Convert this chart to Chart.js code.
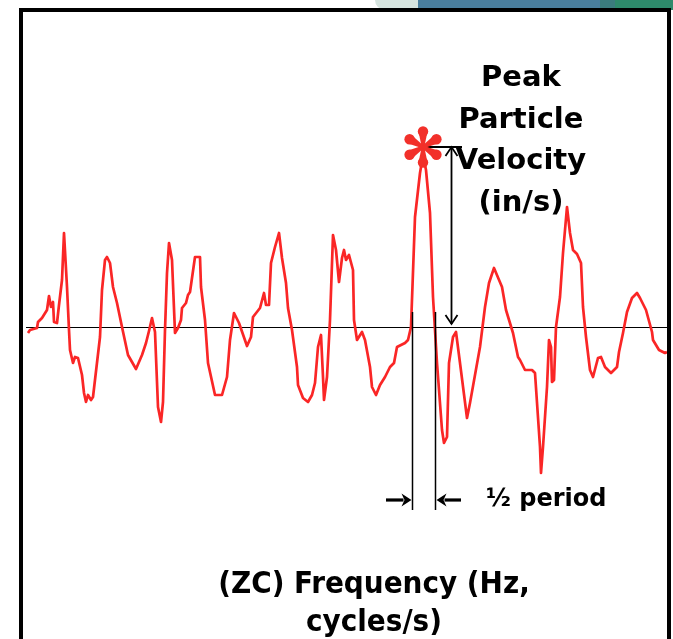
<!DOCTYPE html>
<html>
<head>
<meta charset="utf-8">
<title>Peak Particle Velocity</title>
<script src="https://cdn.jsdelivr.net/npm/chart.js@4.4.1/dist/chart.umd.min.js"></script>
<style>
  html, body { margin: 0; padding: 0; background: #fff; overflow: hidden; }
  body { width: 673px; height: 639px; position: relative; }
  #waveChart { position: absolute; left: 0; top: 0; }
  .frame { position: absolute; left: 19px; top: 8px; width: 644px; height: 700px; border: 4px solid #000; z-index: 3; }
  .deco { position: absolute; top: 0; height: 10px; z-index: 1; }
  .label { position: absolute; z-index: 4; color: #000; text-align: center; white-space: nowrap; }
  .peak { left: 411px; top: 56px; width: 220px; font: bold 29px/41.5px "DejaVu Sans", sans-serif; }
  .half { left: 486px; top: 483px; font: bold 24px/30px "DejaVu Sans", sans-serif; text-align: left; }
  .freq { left: 164px; top: 563px; width: 420px; font-family: "DejaVu Sans Condensed", "DejaVu Sans", sans-serif; font-stretch: condensed; font-weight: bold; font-size: 31px; line-height: 38px; }
</style>
</head>
<body>
<div class="deco" style="left:375px;width:43px;background:#d6e4df;border-radius:0 0 0 30px;"></div>
<div class="deco" style="left:418px;width:182px;background:#4a7e9d;"></div>
<div class="deco" style="left:600px;width:15px;background:#3b7c7d;"></div>
<div class="deco" style="left:615px;width:58px;background:#2e8a6b;"></div>
<canvas id="waveChart" width="673" height="639"></canvas>
<div class="frame"></div>
<div class="label peak">Peak<br>Particle<br>Velocity<br>(in/s)</div>
<div class="label half">½ period</div>
<div class="label freq">(ZC) Frequency (Hz,<br>cycles/s)</div>

<script>
// ============================================
// DATA (time in ms, velocity in in/s)
// ============================================
const timeMs = [
  3, 4, 7.5, 8, 10, 12.5, 13.5, 14.5, 15.5, 16, 17.5, 18.5, 20, 21, 22.5, 23.5, 24, 25.5, 26.5, 28,
  30, 31, 32, 33, 34.5, 35.5, 39, 40, 41.5, 42.5, 44, 45.5, 47.5, 50, 53, 57, 60, 62, 63.5, 65,
  66.5, 68, 69.5, 70.5, 71.5, 72.5, 73.5, 75, 76.5, 78, 79.5, 80, 82, 83, 84, 85, 86.5, 89, 89.5, 91.5,
  93, 96.5, 100, 102.5, 104, 106, 108.5, 112.5, 114.5, 115.5, 119, 121, 122, 123.5, 124.5, 126.5, 128.5, 130, 132, 133,
  135, 137.5, 138, 140.5, 143, 145, 146.5, 148, 149.5, 150.5, 151, 152.5, 154, 155.5, 157, 158.5, 160, 161, 162, 163.5,
  165.5, 166, 167.5, 170, 171.5, 174, 175, 177, 179, 181.5, 184, 186, 187.5, 191.5, 193, 194.5, 196.5, 199, 200.5, 202,
  204, 205.5, 207.5, 210, 211, 212.5, 213.5, 215.5, 217, 219, 222.5, 224, 229, 231.5, 233.5, 236, 240, 242, 245.5, 248,
  249, 251.5, 255, 256.5, 259, 259.5, 260.5, 262.5, 263.5, 264.5, 265, 266, 267, 269, 270.5, 272.5, 274, 275.5, 277.5, 279.5,
  280.5, 282, 284, 285.5, 288, 289.5, 291.5, 294.5, 297.5, 298.5, 300.5, 302.5, 305, 307.5, 309, 312, 315, 315.5, 318.5, 321.5,
  322.5
];
const velocity = [
  -0.06, -0.03, -0.01, 0.05, 0.09, 0.17, 0.31, 0.20, 0.25, 0.05, 0.04, 0.22, 0.47, 0.94, 0.40, -0.03, -0.23, -0.36, -0.30, -0.31,
  -0.48, -0.66, -0.75, -0.68, -0.73, -0.70, -0.10, 0.37, 0.67, 0.70, 0.64, 0.40, 0.24, 0.00, -0.28, -0.42, -0.28, -0.16, -0.04, 0.09,
  -0.05, -0.80, -0.95, -0.75, -0.03, 0.54, 0.84, 0.67, -0.06, -0.01, 0.07, 0.19, 0.24, 0.32, 0.35, 0.49, 0.70, 0.70, 0.40, 0.07,
  -0.36, -0.68, -0.68, -0.50, -0.13, 0.14, 0.04, -0.19, -0.10, 0.10, 0.19, 0.34, 0.22, 0.22, 0.64, 0.80, 0.94, 0.69, 0.44, 0.19,
  -0.03, -0.40, -0.58, -0.71, -0.75, -0.68, -0.56, -0.20, -0.08, -0.50, -0.73, -0.50, 0.07, 0.92, 0.77, 0.45, 0.69, 0.77, 0.67, 0.72,
  0.57, 0.07, -0.13, -0.05, -0.13, -0.40, -0.60, -0.68, -0.58, -0.50, -0.40, -0.36, -0.20, -0.16, -0.13, 0.00, 1.10, 1.54, 1.72, 1.57,
  1.14, 0.30, -0.36, -1.03, -1.16, -1.10, -0.36, -0.10, -0.05, -0.36, -0.91, -0.76, -0.20, 0.20, 0.44, 0.59, 0.40, 0.17, -0.06, -0.30,
  -0.33, -0.43, -0.43, -0.46, -1.20, -1.46, -1.20, -0.60, -0.13, -0.20, -0.55, -0.53, 0.00, 0.30, 0.74, 1.20, 0.94, 0.77, 0.73, 0.64,
  0.20, -0.10, -0.43, -0.50, -0.31, -0.30, -0.40, -0.46, -0.40, -0.25, -0.06, 0.15, 0.29, 0.34, 0.29, 0.17, -0.05, -0.13, -0.23, -0.26,
  -0.25
];

// annotation anchors (data units)
const peakTime = 200.5;
const peakMarker = 1.80;
const peakArrowTime = 214.5;
const peakLineEnd = 220;
const halfPeriodStart = 195;
const halfPeriodEnd = 206.5;
const halfPeriodTop = 0.15;
const halfPeriodBottom = -1.83;
const halfArrowLevel = -1.73;
const halfArrowLength = 13;

// ============================================
// DRAW HELPERS
// ============================================
function drawAsterisk(ctx, cx, cy, r) {
    ctx.save();
    ctx.fillStyle = '#f2302a';
    [90, 30, 150, 210, 270, 330].forEach(deg => {
        const a = deg * Math.PI / 180;
        const ux = Math.cos(a), uy = -Math.sin(a);
        const px = -uy, py = ux;
        const tip = r - 5.5;
        // teardrop petal: narrow at the centre, round at the end
        ctx.beginPath();
        ctx.moveTo(cx + px * 1.3, cy + py * 1.3);
        ctx.lineTo(cx + ux * tip + px * 4.5, cy + uy * tip + py * 4.5);
        ctx.lineTo(cx + ux * tip - px * 4.5, cy + uy * tip - py * 4.5);
        ctx.lineTo(cx - px * 1.3, cy - py * 1.3);
        ctx.closePath();
        ctx.fill();
        ctx.beginPath();
        ctx.arc(cx + ux * tip, cy + uy * tip, 5.2, 0, Math.PI * 2);
        ctx.fill();
    });
    ctx.restore();
}

function drawChevron(ctx, x, y, dir) {
    // open arrow head, dir = 1 points down, -1 points up
    ctx.beginPath();
    ctx.moveTo(x - 6, y - dir * 9);
    ctx.lineTo(x, y);
    ctx.lineTo(x + 6, y - dir * 9);
    ctx.stroke();
}

function drawSolidArrow(ctx, fromX, toX, y) {
    const dir = toX > fromX ? 1 : -1;
    ctx.lineWidth = 3.2;
    ctx.beginPath();
    ctx.moveTo(fromX, y);
    ctx.lineTo(toX - dir * 8, y);
    ctx.stroke();
    ctx.beginPath();
    ctx.moveTo(toX, y);
    ctx.lineTo(toX - dir * 10, y - 6.5);
    ctx.lineTo(toX - dir * 7, y);
    ctx.lineTo(toX - dir * 10, y + 6.5);
    ctx.closePath();
    ctx.fill();
}

const waveAnnotations = {
    id: 'waveAnnotations',
    beforeDatasetsDraw(chart) {
        const { ctx, chartArea, scales: { y } } = chart;
        const y0 = Math.round(y.getPixelForValue(0)) + 0.5;
        ctx.save();
        ctx.strokeStyle = '#000';
        ctx.lineWidth = 1.2;
        ctx.beginPath();
        ctx.moveTo(chartArea.left + 4, y0);
        ctx.lineTo(chartArea.right, y0);
        ctx.stroke();
        ctx.restore();
    },
    afterDatasetsDraw(chart) {
        const { ctx, scales: { x, y } } = chart;
        ctx.save();
        ctx.strokeStyle = '#000';
        ctx.fillStyle = '#000';

        // peak marker + amplitude arrow
        const px = x.getPixelForValue(peakTime);
        const py = y.getPixelForValue(peakMarker);
        const ax = Math.round(x.getPixelForValue(peakArrowTime)) + 0.5;
        ctx.lineWidth = 1.8;
        ctx.beginPath();
        ctx.moveTo(px, py);
        ctx.lineTo(x.getPixelForValue(peakLineEnd), py);
        ctx.moveTo(ax, py);
        ctx.lineTo(ax, y.getPixelForValue(0.03));
        ctx.stroke();
        drawChevron(ctx, ax, py, -1);
        drawChevron(ctx, ax, y.getPixelForValue(0.03), 1);

        // half period markers
        const hx1 = Math.round(x.getPixelForValue(halfPeriodStart)) + 0.5;
        const hx2 = Math.round(x.getPixelForValue(halfPeriodEnd)) + 0.5;
        ctx.lineWidth = 1.5;
        ctx.beginPath();
        ctx.moveTo(hx1, y.getPixelForValue(halfPeriodTop));
        ctx.lineTo(hx1, y.getPixelForValue(halfPeriodBottom));
        ctx.moveTo(hx2, y.getPixelForValue(halfPeriodTop));
        ctx.lineTo(hx2, y.getPixelForValue(halfPeriodBottom));
        ctx.stroke();
        const ay = y.getPixelForValue(halfArrowLevel);
        drawSolidArrow(ctx, x.getPixelForValue(halfPeriodStart - halfArrowLength), hx1 - 1, ay);
        drawSolidArrow(ctx, x.getPixelForValue(halfPeriodEnd + halfArrowLength), hx2 + 1, ay);

        drawAsterisk(ctx, px, py, 21);
        ctx.restore();
    }
};

// ============================================
// CHART
// ============================================
const ctx = document.getElementById('waveChart');
const waveChart = new Chart(ctx.getContext('2d'), {
    type: 'line',
    data: {
        datasets: [{
            label: 'Particle velocity',
            data: timeMs.map((t, i) => ({ x: t, y: velocity[i] })),
            borderColor: 'rgb(250, 38, 38)',
            borderWidth: 2.7,
            borderJoinStyle: 'round',
            pointRadius: 0,
            tension: 0,
            fill: false
        }]
    },
    options: {
        responsive: false,
        animation: false,
        layout: { padding: { left: 22, right: 5, top: 27, bottom: 12 } },
        plugins: {
            legend: { display: false },
            tooltip: { enabled: false }
        },
        scales: {
            x: { type: 'linear', min: 0, max: 323, display: false },
            y: { min: -3, max: 3, display: false }
        }
    },
    plugins: [waveAnnotations]
});
</script>
</body>
</html>
